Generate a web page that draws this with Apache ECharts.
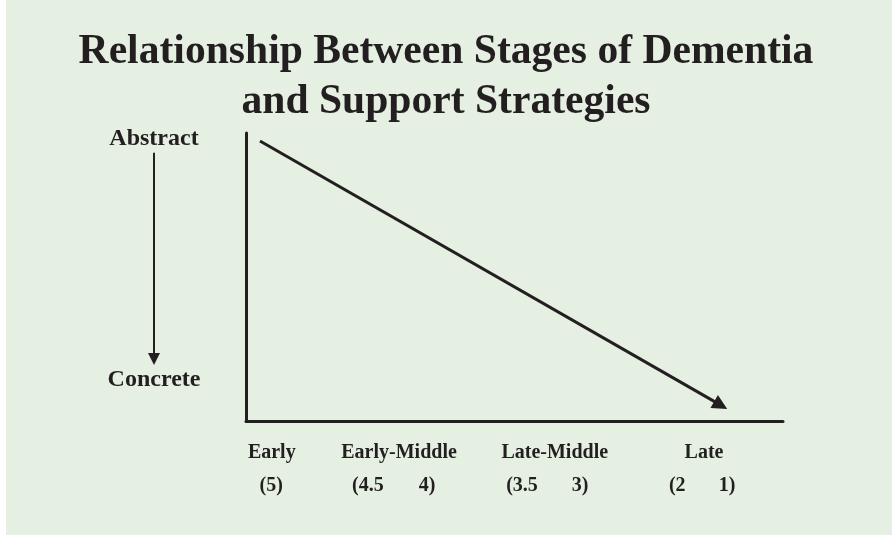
<!DOCTYPE html>
<html>
<head>
<meta charset="utf-8">
<script src="https://cdn.jsdelivr.net/npm/echarts@6/dist/echarts.min.js"></script>
<style>
html,body{margin:0;padding:0;background:#fff;}
#chart{width:892px;height:535px;background:linear-gradient(to right,#ffffff 0,#ffffff 6px,#e5f0e2 6px);}
</style>
</head>
<body>
<div id="chart"></div>
<script>
// ---- data ----
const titleLines = ['Relationship Between Stages of Dementia', 'and Support Strategies'];
const stageNames = ['Early', 'Early-Middle', 'Late-Middle', 'Late'];
const stagePos = [4.8, 28.5, 57.5, 85.3];
const scoreLabels = ['(5)', '(4.5', '4)', '(3.5', '3)', '(2', '1)'];
const scorePos = [4.7, 22.7, 33.7, 51.4, 62.2, 80.3, 89.6];
const trendStart = [2.6, 97.2];
const trendEnd = [88.4, 5.5];
const levelNames = ['Abstract', 'Concrete'];
const levelPos = [97.9, 14.2];
const levelArrow = [93.1, 21.5];

const ink = '#231f20';
const serif = '"Liberation Serif", "Times New Roman", serif';

const chart = echarts.init(document.getElementById('chart'), null, {renderer: 'canvas'});
chart.setOption({
  backgroundColor: 'transparent',
  animation: false,
  title: {
    text: titleLines.join('\n'),
    left: 'center',
    top: 22,
    textStyle: {fontFamily: serif, fontWeight: 'bold', fontSize: 41.6, lineHeight: 50, color: ink}
  },
  grid: [
    {left: 246, right: 109, top: 133, bottom: 114},
    {left: 100, width: 108, top: 133, bottom: 114}
  ],
  xAxis: [
    {
      type: 'value', gridIndex: 0, min: 0, max: 100,
      axisLine: {show: true, lineStyle: {color: ink, width: 3}},
      axisTick: {show: false}, splitLine: {show: false},
      axisLabel: {
        customValues: stagePos,
        margin: 22,
        fontFamily: serif, fontWeight: 'bold', fontSize: 20, color: ink,
        formatter: v => stageNames[stagePos.indexOf(v)] || ''
      }
    },
    {
      type: 'value', gridIndex: 0, min: 0, max: 100, position: 'bottom', offset: 33,
      axisLine: {show: false}, axisTick: {show: false}, splitLine: {show: false},
      axisLabel: {
        customValues: scorePos,
        margin: 22,
        fontFamily: serif, fontWeight: 'bold', fontSize: 20, color: ink,
        formatter: v => scoreLabels[scorePos.indexOf(v)] || ''
      }
    },
    {type: 'value', gridIndex: 1, min: 0, max: 1, show: false}
  ],
  yAxis: [
    {
      type: 'value', gridIndex: 0, min: 0, max: 100,
      axisLine: {show: true, onZero: false, lineStyle: {color: ink, width: 3}},
      axisTick: {show: false}, axisLabel: {show: false}, splitLine: {show: false}
    },
    {type: 'value', gridIndex: 1, min: 0, max: 100, show: false}
  ],
  series: [
    {
      type: 'line', xAxisIndex: 0, yAxisIndex: 0, data: [],
      markLine: {
        silent: true,
        symbol: ['none', 'triangle'],
        symbolSize: 15,
        label: {show: false},
        itemStyle: {color: ink},
        lineStyle: {color: ink, width: 3, type: 'solid'},
        data: [[{coord: trendStart}, {coord: trendEnd}]]
      }
    },
    {
      type: 'scatter', xAxisIndex: 2, yAxisIndex: 1,
      symbol: 'circle', symbolSize: 1,
      itemStyle: {color: 'rgba(0,0,0,0)', opacity: 1},
      data: levelNames.map((n, i) => ({value: [0.5, levelPos[i]], name: n})),
      label: {
        show: true, position: 'inside', formatter: p => p.name,
        fontFamily: serif, fontWeight: 'bold', fontSize: 24, color: ink, opacity: 1
      },
      markLine: {
        silent: true,
        symbol: ['none', 'triangle'],
        symbolSize: 12,
        label: {show: false},
        itemStyle: {color: ink},
        lineStyle: {color: ink, width: 2, type: 'solid', opacity: 1},
        data: [[{coord: [0.5, levelArrow[0]]}, {coord: [0.5, levelArrow[1]]}]]
      }
    }
  ]
});
</script>
</body>
</html>
